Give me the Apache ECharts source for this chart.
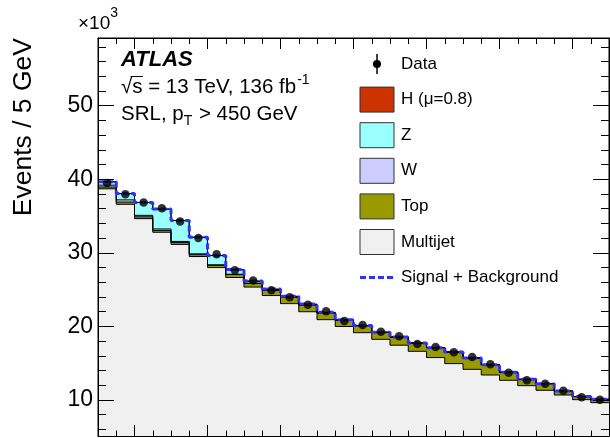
<!DOCTYPE html>
<html><head><meta charset="utf-8">
<script src="https://cdn.jsdelivr.net/npm/echarts@6/dist/echarts.min.js"></script>
<style>html,body{margin:0;padding:0;background:#fff}#c{width:610px;height:438px}</style>
</head><body><div id="c"></div>
<script>
// ---- data (values in units of 10^3 events per 5 GeV bin) ----
const massLowEdges = [70,75,80,85,90,95,100,105,110,115,120,125,130,135,140,145,150,155,160,165,170,175,180,185,190,195,200,205];
const binWidthGeV = 5;
const multijet = [38.7,36.6,34.65,32.8,31.15,29.5,28.0,26.65,25.35,24.2,23.1,22.0,20.92,20.0,19.15,18.25,17.45,16.62,15.77,14.95,14.17,13.4,12.68,11.95,11.32,10.68,10.05,9.64];
const topQuark = [0.25,0.3,0.25,0.25,0.25,0.25,0.3,0.4,0.5,0.7,0.85,0.9,0.9,0.85,0.95,0.95,1.12,1.13,1.35,1.58,1.55,1.4,1.1,0.86,0.9,0.55,0.42,0.45];
const wBoson = [0.25,0.3,0.2,0.2,0.15,0.12,0.08,0.05,0.03,0.02,0.01,0.01,0,0,0,0,0,0,0,0,0,0,0,0,0,0,0,0];
const zBoson = [0.45,0.85,1.75,2.7,2.85,2.25,1.25,0.6,0.25,0.1,0.05,0.03,0.02,0.01,0,0,0,0,0,0,0,0,0,0,0,0,0,0];
const higgs = [0,0,0,0,0,0.01,0.02,0.03,0.05,0.07,0.09,0.1,0.08,0.05,0.03,0.02,0.01,0,0,0,0,0,0,0,0,0,0,0];
const observed = [39.5,37.96,36.83,36.06,34.25,32.03,29.8,27.63,26.23,24.91,23.96,22.96,22.06,20.74,20.2,19.29,18.66,17.62,17.21,16.48,15.85,14.85,13.72,12.68,12.22,11.27,10.37,10.05];
const yMajorTicks = [10,20,30,40,50];
const yMinorTicks = [6,8,12,14,16,18,22,24,26,28,32,34,36,38,42,44,46,48,52,54,56,58];
const xMajorTicks = [80,100,120,140,160,180,200];
const xMinorTicks = [75,85,90,95,105,110,115,125,130,135,145,150,155,165,170,175,185,190,195,205];
const legendNames = ['Data','H (\u03bc=0.8)','Z','W','Top','Multijet','Signal + Background'];

// ---- styling ----
const FONT = "'Liberation Sans', Arial, Helvetica, sans-serif";
const colors = {multijet:'#f0f0f0', top:'#999900', w:'#ccccff', z:'#99ffff', h:'#cc3300', sb:'#3030ff'};

// cumulative stack built from the component arrays
const cumMJ = multijet.slice();
const cumTop = cumMJ.map((v,i)=>v+topQuark[i]);
const cumW = cumTop.map((v,i)=>v+wBoson[i]);
const cumZ = cumW.map((v,i)=>v+zBoson[i]);
const cumH = cumZ.map((v,i)=>v+higgs[i]);

function steps(vals){
  const pts=[];
  vals.forEach((v,i)=>{pts.push([massLowEdges[i],v]);pts.push([massLowEdges[i]+binWidthGeV,v]);});
  return pts;
}
function histSeries(name, cum, color){
  return {type:'line', name, data:steps(cum), symbol:'none', silent:true, animation:false,
    itemStyle:{color}, lineStyle:{color:'#000', width:1},
    areaStyle:{color, opacity:1, origin:'start'}};
}

const yMin = 5.11, yMax = 59.2, xMin = 70, xMax = 210;
const grid = {left:98, top:38, width:511, height:398, show:true, borderColor:'#000', borderWidth:1, backgroundColor:'rgba(0,0,0,0)'};

function xAx(pos, vals, len, showLine){
  return {type:'value', min:xMin, max:xMax, position:pos, gridIndex:0, z:10,
    axisLine:{show:showLine, onZero:false, lineStyle:{color:'#000', width:1}},
    axisTick:{show:true, inside:true, length:len, customValues:vals, lineStyle:{color:'#000', width:1}},
    axisLabel:{show:false}, splitLine:{show:false}};
}
function yAx(pos, vals, len, showLine, labels){
  return {type:'value', min:yMin, max:yMax, position:pos, gridIndex:0, z:10,
    axisLine:{show:showLine, onZero:false, lineStyle:{color:'#000', width:1}},
    axisTick:{show:true, inside:true, length:len, customValues:vals, lineStyle:{color:'#000', width:1}},
    axisLabel: labels ? {show:true, customValues:vals, fontSize:23, color:'#000', fontFamily:FONT, margin:5} : {show:false},
    splitLine:{show:false}};
}

// text measuring for manual super/subscripts
const mctx = document.createElement('canvas').getContext('2d');
function tw(s, size, extra){ mctx.font = (extra||'') + size + 'px ' + FONT; return mctx.measureText(s).width; }
function T(x, y, s, size, opts){
  opts = opts||{};
  return {type:'text', x, y, rotation: opts.rotation||0, silent:true, z:100,
    style:{text:s, fontSize:size, fontFamily:FONT, fontWeight:opts.weight||'normal', fontStyle:opts.style||'normal',
      fill:opts.fill||'#000', align:opts.align||'left', verticalAlign:'middle', textAlign:opts.align||'left', textVerticalAlign:'middle'}};
}

const g = [];
// x10^3
g.push(T(78, 23.5, '\u00d710', 19));
g.push(T(78 + tw('\u00d710',19), 13.5, '3', 14));
// y title
g.push(T(24, 38, 'Events / 5 GeV', 26.5, {rotation:Math.PI/2, align:'right'}));
// ATLAS label block
g.push(T(121, 60, 'ATLAS', 22, {weight:'bold', style:'italic'}));
const l2a = '\u221as = 13 TeV, 136 fb';
g.push(T(121, 87, l2a, 20.5));
g.push(T(121 + tw(l2a,20.5) + 1, 80, '-1', 14));
g.push({type:'line', silent:true, z:100, shape:{x1:121 + tw('\u221a',20.5)*0.85, y1:76.5, x2:121 + tw('\u221as',20.5)+0.5, y2:76.5}, style:{stroke:'#000', lineWidth:1}});
const l3a = 'SRL, p';
g.push(T(121, 114, l3a, 20.5));
g.push(T(121 + tw(l3a,20.5), 121, 'T', 14));
g.push(T(121 + tw(l3a,20.5) + tw('T',14) + 1, 114, ' > 450 GeV', 20.5));

// legend
const legX = 360, legW = 34, legH = 25, legY0 = 64, legDY = 35.6, legTextX = 401;
const legFill = [null, colors.h, colors.z, colors.w, colors.top, colors.multijet, null];
legendNames.forEach((name, k) => {
  const cy = legY0 + k*legDY;
  if (k === 0) {
    g.push({type:'line', silent:true, z:100, shape:{x1:legX+legW/2, y1:cy-10, x2:legX+legW/2, y2:cy+10}, style:{stroke:'#000', lineWidth:1.5}});
    g.push({type:'circle', silent:true, z:100, shape:{cx:legX+legW/2, cy, r:4}, style:{fill:'#000'}});
  } else if (legFill[k]) {
    g.push({type:'rect', silent:true, z:100, shape:{x:legX, y:cy-legH/2, width:legW, height:legH}, style:{fill:legFill[k], stroke:'#333', lineWidth:1}});
  } else {
    g.push({type:'line', silent:true, z:100, shape:{x1:legX, y1:cy, x2:legX+legW, y2:cy}, style:{stroke:colors.sb, lineWidth:3, lineDash:[6,3]}});
  }
  g.push(T(legTextX, cy, name, 17));
});

const chart = echarts.init(document.getElementById('c'), null, {renderer:'canvas'});
chart.setOption({
  animation:false,
  backgroundColor:'#fff',
  grid:[grid],
  xAxis:[xAx('bottom', xMajorTicks, 11, true), xAx('bottom', xMinorTicks, 5.5, false), xAx('top', xMajorTicks, 11, true), xAx('top', xMinorTicks, 6, false)],
  yAxis:[yAx('left', yMajorTicks, 16, true, true), yAx('left', yMinorTicks, 8, false, false), yAx('right', yMajorTicks, 16, true, false), yAx('right', yMinorTicks, 8, false, false)],
  series:[
    histSeries('H (\u03bc=0.8)', cumH, colors.h),
    histSeries('Z', cumZ, colors.z),
    histSeries('W', cumW, colors.w),
    histSeries('Top', cumTop, colors.top),
    histSeries('Multijet', cumMJ, colors.multijet),
    {type:'line', name:'Signal + Background', data:steps(cumH), symbol:'none', silent:true, z:3,
      lineStyle:{color:colors.sb, width:3, type:[6,3]}},
    {type:'scatter', name:'Data', data:observed.map((v,i)=>[massLowEdges[i]+binWidthGeV/2, v]), symbol:'circle', symbolSize:8.5, z:4,
      itemStyle:{color:'#000'}, silent:true}
  ],
  graphic:g
});
</script></body></html>
